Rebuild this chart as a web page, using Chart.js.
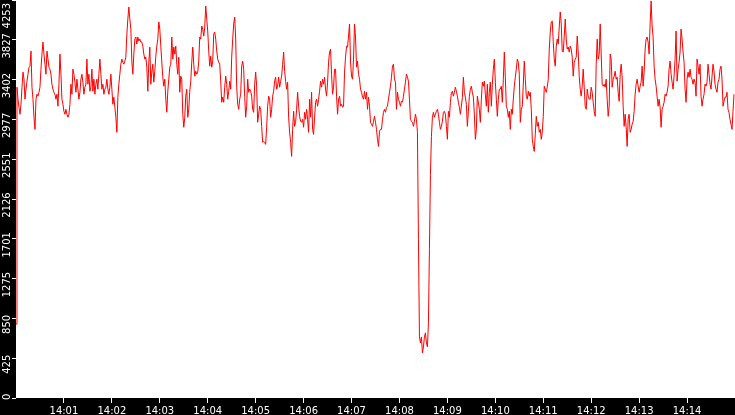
<!DOCTYPE html>
<html>
<head>
<meta charset="utf-8">
<script src="https://cdn.jsdelivr.net/npm/chart.js@4/dist/chart.umd.min.js"></script>
<style>
  html, body { margin: 0; padding: 0; background: #000; }
  #wrap { width: 735px; height: 415px; position: relative; }
</style>
</head>
<body>
<div id="wrap"><canvas id="trace"></canvas></div>
<script>
// time axis: one reading every 1.25 s starting 14:00:00
const SAMPLE_SECONDS = 1.25;
const xTickLabels = ['14:01', '14:02', '14:03', '14:04', '14:05', '14:06', '14:07',
  '14:08', '14:09', '14:10', '14:11', '14:12', '14:13', '14:14'];
const xTickSeconds = [60, 120, 180, 240, 300, 360, 420, 480, 540, 600, 660, 720, 780, 840];
const xAxisSeconds = 900;

const yAxisMax = 4253;
const yTickLabels = ['0', '425', '850', '1275', '1701', '2126', '2551', '2977', '3402', '3827', '4253'];

// readings
const values = [
  790, 3321, 3193, 3107, 3032, 3139, 3321, 3482, 3407, 3193, 3300, 3385, 3460, 3535, 3546, 3707, 3321, 3193, 3000, 2871, 3193, 3246, 3225, 3267,
  3321, 3514, 3675, 3803, 3675, 3567, 3460, 3707, 3621, 3535, 3514, 3460, 3353, 3300, 3267, 3246, 3193, 3246, 3118, 3353,
  3675, 3460, 3193, 3139, 3064, 3032, 3085, 3032, 3000, 3032, 3139, 3353, 3246, 3514, 3460, 3375, 3267, 3407, 3300, 3193,
  3267, 3407, 3460, 3375, 3246, 3321, 3353, 3621, 3353, 3460, 3278, 3321, 3514, 3278, 3407, 3246, 3353, 3407, 3300, 3460,
  3621, 3460, 3300, 3353, 3246, 3300, 3321, 3407, 3300, 3246, 3321, 3460, 3300, 3139, 3214, 3107, 3000, 2839, 3214, 3353,
  3460, 3567, 3621, 3589, 3567, 3600, 3642, 3889, 4050, 4178, 4050, 3942, 3600, 3460, 3675, 3835, 3857, 3782, 3857, 3814,
  3835, 3803, 3803, 3760, 3675, 3621, 3642, 3535, 3278, 3589, 3750, 3353, 3482, 3567, 3375, 3492, 3653, 3760, 3835, 4018,
  3942, 3760, 3589, 3428, 3332, 3407, 3193, 3053, 3278, 3407, 3535, 3567, 3857, 3621, 3750, 3675, 3760, 3567, 3460, 3642,
  3267, 3439, 3407, 3032, 2893, 3000, 3225, 3300, 3000, 3085, 3278, 3385, 3589, 3750, 3567, 3439, 3492, 3460, 3482, 3600,
  3857, 3835, 3975, 3942, 3867, 3964, 4189, 4050, 3921, 3707, 3546, 3653, 3535, 3600, 3889, 3910, 3835, 3707, 3621, 3589,
  3567, 3385, 3160, 3214, 3160, 3321, 3439, 3353, 3193, 3278, 3385, 3300, 3642, 3835, 3996, 4071, 3835, 3321, 3139, 3085,
  3193, 3246, 3546, 3600, 3514, 3225, 3000, 3118, 3407, 3267, 3300, 3278, 3225, 3085, 3053, 3353, 3482, 3332, 2946, 3032,
  3118, 3085, 2903, 2732, 2742, 2732, 2710, 2893, 3118, 3225, 3193, 3000, 3085, 3225, 3278, 3385, 3428, 3300, 3332, 3428,
  3321, 3385, 3439, 3567, 3696, 3492, 3385, 3300, 3375, 3000, 2839, 2732, 2582, 2871, 3064, 2903, 2946, 3085, 3267, 3118,
  3010, 2957, 2946, 2978, 2893, 3053, 2978, 3085, 2978, 2839, 3193, 3000, 3267, 2871, 2817, 3000, 3160, 3193, 3118, 3193,
  3278, 3385, 3321, 3407, 3353, 3428, 3300, 3225, 3375, 3589, 3696, 3728, 3460, 3246, 3321, 3514, 3514, 3225, 3032, 3193,
  3225, 3118, 3139, 3107, 3118, 3482, 3642, 3760, 3750, 3867, 3996, 3589, 3439, 3407, 3621, 3996, 3857, 3535, 3600, 3460,
  3407, 3300, 3267, 3214, 3193, 3278, 3193, 3267, 3085, 3214, 3118, 2946, 2925, 2903, 2957, 3010, 2946, 2871, 2764, 2689,
  2850, 2871, 2871, 2978, 3053, 3085, 3053, 3107, 3118, 3193, 3267, 3332, 3428, 3546, 3567, 3407, 3375, 3085, 3267, 3193,
  3160, 3118, 3171, 3160, 3225, 3300, 3375, 3460, 3428, 3385, 3193, 2978, 2957, 2946, 2903, 2957, 3032, 2978, 2839, 1693,
  653, 589, 653, 482, 546, 653, 696, 589, 546, 803, 1586, 2389, 2796, 3000, 3053, 3000, 3032, 3064, 3085, 3032,
  2946, 2871, 2903, 2957, 3053, 3064, 3032, 2903, 2764, 3064, 3000, 3160, 3267, 3278, 3225, 3267, 3321, 3278, 3225, 3160,
  3107, 3032, 3118, 3214, 3428, 3267, 3214, 3139, 2903, 3064, 3225, 3300, 3332, 3267, 3214, 3032, 2764, 2871, 3225, 3160,
  3085, 2946, 3193, 3375, 3332, 3385, 3246, 3118, 3353, 3053, 3267, 3375, 3118, 3353, 3514, 3621, 3375, 3193, 3010, 3193,
  3300, 3300, 3332, 3160, 3407, 3696, 3428, 3118, 3085, 3000, 3064, 2871, 3085, 3032, 3193, 3332, 3428, 3514, 3621, 3589,
  3460, 2946, 3085, 3118, 3353, 3600, 3407, 3225, 3193, 3278, 3225, 3267, 3085, 2764, 2689, 2635, 2817, 3010, 2903, 2946,
  2839, 2871, 2764, 2839, 3010, 3332, 3300, 3267, 3321, 3407, 3728, 3910, 4018, 4028, 3803, 3621, 3546, 3760, 3835, 3782,
  3964, 4125, 3996, 3707, 3696, 3867, 4050, 3835, 3728, 3750, 3696, 3760, 3728, 3642, 3439, 3589, 3621, 3642, 3867, 3696,
  3439, 3300, 3225, 3332, 3514, 3321, 3118, 3085, 3300, 3225, 3193, 3193, 3321, 3267, 3160, 3064, 3010, 3567, 3835, 3621,
  3675, 3996, 3675, 3353, 3332, 3353, 3321, 3407, 3193, 3010, 3118, 3675, 3621, 3321, 3407, 3439, 3492, 3407, 3428, 3267,
  3171, 3460, 3567, 3428, 3118, 2903, 3032, 2893, 2689, 2978, 3032, 2839, 2871, 2925, 2957, 3064, 3246, 3353, 3407, 3332,
  3267, 3332, 3375, 3546, 3332, 3482, 3728, 3835, 3857, 3803, 3675, 3996, 4243, 3975, 3857, 3546, 3407, 3332, 3225, 3118,
  3193, 3107, 2893, 3085, 3118, 3160, 3246, 3225, 3267, 3332, 3514, 3600, 3460, 3375, 3300, 3439, 3621, 3921, 3385, 3514,
  3589, 3696, 3942, 3835, 3696, 3589, 3300, 3160, 3407, 3482, 3428, 3514, 3428, 3407, 3353, 3407, 3375, 3225, 3621, 3546,
  3460, 3567, 3225, 3118, 3193, 3246, 3353, 3332, 3375, 3567, 3460, 3353, 3300, 3439, 3567, 3492, 3353, 3300, 3267, 3375,
  3407, 3514, 3546, 3407, 3118, 3171, 3214, 3214, 3267, 3085, 3053, 2978, 2925, 2871, 3064, 3246
];

const times = values.map((_, i) => i * SAMPLE_SECONDS);
const points = values.map((v, i) => ({ x: times[i], y: v }));

const AXIS_FONT = { family: 'DejaVu Sans', size: 10 };

// black frame behind the axes, white plot area
const framePlugin = {
  id: 'frame',
  beforeDraw(chart) {
    const { ctx, chartArea: a } = chart;
    ctx.save();
    ctx.fillStyle = '#000';
    ctx.fillRect(0, 0, chart.width, chart.height);
    ctx.fillStyle = '#fff';
    ctx.fillRect(a.left, a.top, a.right - a.left, a.bottom - a.top);
    ctx.restore();
  },
  afterDraw(chart) {
    // rotated value labels on the left strip
    const scale = chart.scales.y;
    const ctx = chart.ctx;
    ctx.save();
    ctx.fillStyle = '#fff';
    ctx.font = `${AXIS_FONT.size}px "${AXIS_FONT.family}"`;
    ctx.textAlign = 'center';
    ctx.textBaseline = 'middle';
    scale.ticks.forEach((t, i) => {
      const label = yTickLabels[i];
      const w = ctx.measureText(label).width;
      let cy = scale.getPixelForValue(t.value) + 6;
      cy = Math.max(3 + w / 2, Math.min(400 - w / 2, cy));
      ctx.save();
      ctx.translate(7, cy);
      ctx.rotate(-Math.PI / 2);
      ctx.fillText(label, 0, 0);
      ctx.restore();
    });
    ctx.restore();
  }
};

new Chart(document.getElementById('trace').getContext('2d'), {
  type: 'line',
  data: {
    datasets: [{
      data: points,
      borderColor: '#ff0000',
      borderWidth: 1,
      pointRadius: 0,
      tension: 0,
      fill: false
    }]
  },
  options: {
    responsive: true,
    maintainAspectRatio: false,
    animation: false,
    devicePixelRatio: 1,
    layout: { padding: 0 },
    plugins: { legend: { display: false }, tooltip: { enabled: false } },
    scales: {
      x: {
        type: 'linear',
        min: 0,
        max: xAxisSeconds,
        afterFit(s) { s.height = 17; },
        afterBuildTicks(s) { s.ticks = xTickSeconds.map(v => ({ value: v })); },
        border: { display: false },
        grid: { drawOnChartArea: false, drawTicks: true, tickLength: 5, color: '#fff' },
        ticks: {
          color: '#fff',
          font: AXIS_FONT,
          padding: 2,
          autoSkip: false,
          maxRotation: 0,
          callback: (v, i) => xTickLabels[i]
        }
      },
      y: {
        type: 'linear',
        min: 0,
        max: yAxisMax,
        afterFit(s) { s.width = 16; },
        afterBuildTicks(s) { s.ticks = yTickLabels.map((_, i) => ({ value: yAxisMax * i / 10 })); },
        border: { display: false },
        grid: { drawOnChartArea: false, drawTicks: true, tickLength: 4, color: '#fff' },
        ticks: { display: false }
      }
    }
  },
  plugins: [framePlugin]
});
</script>
</body>
</html>
